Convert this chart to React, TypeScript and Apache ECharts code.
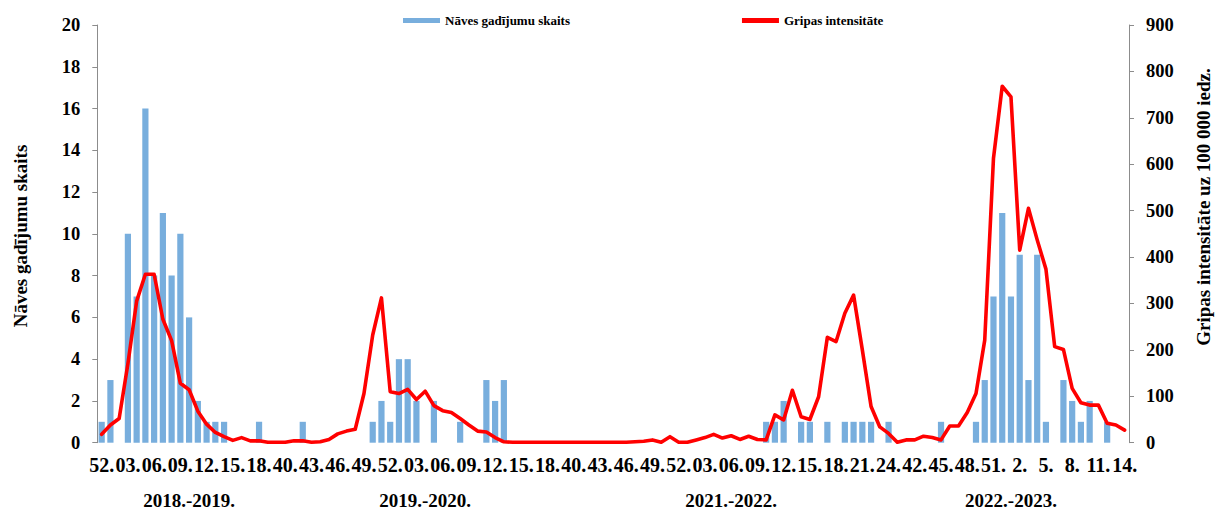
import React, { useEffect, useRef } from "react";
import * as echarts from "echarts";

const seasonNames = ["2018.-2019.", "2019.-2020.", "2021.-2022.", "2022.-2023."];

const weeks1819 = ["52.", "01.", "02.", "03.", "04.", "05.", "06.", "07.", "08.", "09.", "10.", "11.", "12.", "13.", "14.", "15.", "16.", "17.", "18.", "19.", "20."];
const weeks1920 = ["40.", "41.", "42.", "43.", "44.", "45.", "46.", "47.", "48.", "49.", "50.", "51.", "52.", "01.", "02.", "03.", "04.", "05.", "06.", "07.", "08.", "09.", "10.", "11.", "12.", "13.", "14.", "15.", "16.", "17.", "18.", "19.", "20."];
const weeks2122 = ["40.", "41.", "42.", "43.", "44.", "45.", "46.", "47.", "48.", "49.", "50.", "51.", "52.", "01.", "02.", "03.", "04.", "05.", "06.", "07.", "08.", "09.", "10.", "11.", "12.", "13.", "14.", "15.", "16.", "17.", "18.", "19.", "20.", "21.", "22.", "23.", "24."];
const weeks2223 = ["40.", "41.", "42.", "43.", "44.", "45.", "46.", "47.", "48.", "49.", "50.", "51.", "52.", "1.", "2.", "3.", "4.", "5.", "6.", "7.", "8.", "9.", "10.", "11.", "12.", "13.", "14."];

const deaths1819 = [1, 3, 0, 10, 7, 16, 8, 11, 8, 10, 6, 2, 1, 1, 1, 0, 0, 0, 1, 0, 0];
const deaths1920 = [0, 0, 1, 0, 0, 0, 0, 0, 0, 0, 1, 2, 1, 4, 4, 2, 0, 2, 0, 0, 1, 0, 0, 3, 2, 3, 0, 0, 0, 0, 0, 0, 0];
const deaths2122 = [0, 0, 0, 0, 0, 0, 0, 0, 0, 0, 0, 0, 0, 0, 0, 0, 0, 0, 0, 0, 0, 0, 1, 1, 2, 0, 1, 1, 0, 1, 0, 1, 1, 1, 1, 0, 1];
const deaths2223 = [0, 0, 0, 0, 0, 1, 0, 0, 0, 1, 3, 7, 11, 7, 9, 3, 9, 1, 0, 3, 2, 1, 2, 0, 1, 0, 0];

const intensity1819 = [18, 38, 52, 170, 305, 363, 363, 266, 220, 128, 114, 68, 40, 22, 13, 5, 11, 4, 4, 1, 1];
const intensity1920 = [1, 4, 4, 1, 2, 7, 19, 25, 29, 106, 232, 312, 110, 106, 115, 93, 111, 80, 69, 65, 52, 38, 25, 23, 11, 2, 1, 1, 1, 1, 1, 1, 1];
const intensity2122 = [1, 1, 1, 1, 1, 1, 1, 2, 3, 6, 1, 13, 1, 1, 6, 11, 18, 10, 15, 7, 14, 7, 6, 60, 49, 113, 56, 50, 99, 227, 218, 279, 318, 200, 78, 34, 20];
const intensity2223 = [1, 6, 6, 14, 11, 6, 36, 36, 65, 106, 221, 613, 768, 745, 415, 505, 437, 374, 207, 201, 117, 86, 81, 81, 42, 38, 27];

const leftTicks = { min: 0, max: 20, interval: 2 };
const rightTicks = { min: 0, max: 900, interval: 100 };

const seriesNames = ["Nāves gadījumu skaits", "Gripas intensitāte"];
const leftTitle = "Nāves gadījumu skaits";
const rightTitle = "Gripas intensitāte uz 100 000 iedz.";

const FONT = "'Liberation Serif', 'Times New Roman', serif";

export default function App() {
  const ref = useRef<HTMLDivElement>(null);

  useEffect(() => {
    if (!ref.current) return;
    const chart = echarts.init(ref.current, null, { renderer: "svg" });

    const weekLists = [weeks1819, weeks1920, weeks2122, weeks2223];
    const categories = weekLists.flat();
    const deaths = [deaths1819, deaths1920, deaths2122, deaths2223].flat();
    const intensity = [intensity1819, intensity1920, intensity2122, intensity2223].flat();
    const seasonAxis: string[] = [];
    weekLists.forEach((w, i) => {
      const c = Math.floor((w.length - 1) / 2);
      w.forEach((_, j) => seasonAxis.push(j === c ? seasonNames[i] : ""));
    });

    const axisLineStyle = { color: "#8c8c8c", width: 1 };
    const tickLabel = { color: "#000", fontFamily: FONT, fontWeight: "bold" as const, fontSize: 18.5 };

    chart.setOption({
      animation: false,
      backgroundColor: "#fff",
      grid: { left: 97.3, right: 89, top: 25, bottom: 67.3, outerBoundsMode: "none" },
      legend: {
        left: 398,
        top: 9,
        itemWidth: 37,
        itemHeight: 5,
        itemGap: 172,
        textStyle: { color: "#000", fontFamily: FONT, fontWeight: "bold", fontSize: 13 },
        data: [
          { name: seriesNames[0], icon: "rect" },
          { name: seriesNames[1], icon: "rect" },
        ],
      },
      xAxis: [
        {
          type: "category",
          data: categories,
          position: "bottom",
          axisLine: { show: false },
          axisTick: { show: false },
          axisLabel: { interval: 2, margin: 12.5, ...tickLabel, fontSize: 20 },
          splitLine: { show: false },
        },
        {
          type: "category",
          data: seasonAxis,
          position: "bottom",
          axisLine: { show: false },
          axisTick: { show: false },
          axisLabel: { interval: 0, margin: 48, ...tickLabel, fontSize: 19 },
          splitLine: { show: false },
        },
      ],
      yAxis: [
        {
          type: "value",
          position: "left",
          ...leftTicks,
          axisLine: { show: true, lineStyle: axisLineStyle },
          axisTick: { show: true, length: 5, lineStyle: axisLineStyle },
          axisLabel: { margin: 17, ...tickLabel },
          splitLine: { show: false },
        },
        {
          type: "value",
          position: "right",
          ...rightTicks,
          axisLine: { show: true, lineStyle: axisLineStyle },
          axisTick: { show: true, length: 5, lineStyle: axisLineStyle },
          axisLabel: { margin: 17, ...tickLabel },
          splitLine: { show: false },
        },
      ],
      graphic: [
        {
          type: "text",
          x: 20.5,
          y: 236,
          rotation: Math.PI / 2,
          style: {
            text: leftTitle,
            fill: "#000",
            font: `bold 19px ${FONT}`,
            align: "center",
            verticalAlign: "middle",
          },
        },
        {
          type: "text",
          x: 1203,
          y: 207,
          rotation: Math.PI / 2,
          style: {
            text: rightTitle,
            fill: "#000",
            font: `bold 19px ${FONT}`,
            align: "center",
            verticalAlign: "middle",
          },
        },
      ],
      series: [
        {
          name: seriesNames[0],
          type: "bar",
          xAxisIndex: 0,
          yAxisIndex: 0,
          data: deaths,
          barCategoryGap: "29%",
          itemStyle: { color: "#78AEDD" },
          z: 1,
        },
        {
          name: seriesNames[1],
          type: "line",
          xAxisIndex: 0,
          yAxisIndex: 1,
          data: intensity,
          showSymbol: false,
          symbol: "none",
          lineStyle: { color: "#FF0000", width: 3.6, join: "round", cap: "round" },
          itemStyle: { color: "#FF0000" },
          z: 3,
        },
      ],
    });

    return () => chart.dispose();
  }, []);

  return (
    <div
      ref={ref}
      style={{ position: "fixed", left: 0, top: 0, width: 1218, height: 510, background: "#fff" }}
    />
  );
}
